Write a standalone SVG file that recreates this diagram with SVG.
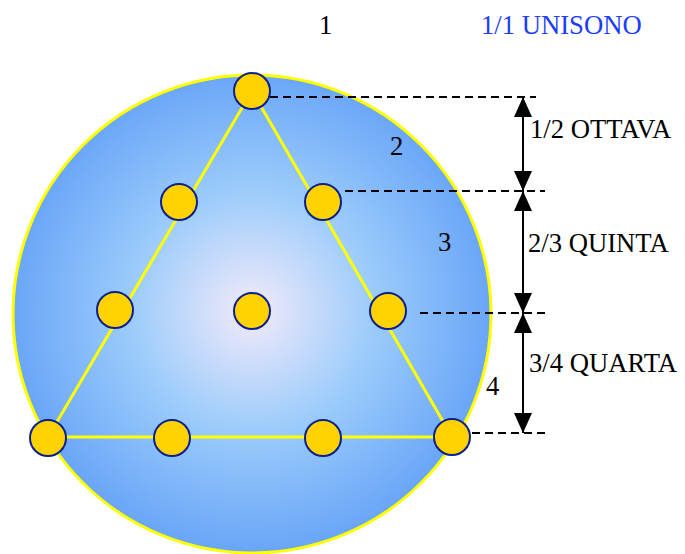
<svg xmlns="http://www.w3.org/2000/svg" width="685" height="554" viewBox="0 0 685 554">
<style>
.node{fill:#ffd200;stroke:#0a2090;stroke-width:2}
.tri{fill:none;stroke:#ffff00;stroke-width:3}
.dash{stroke:#000;stroke-width:2;stroke-dasharray:8,5;fill:none}
.arr{stroke:#000;stroke-width:2;fill:none}
.t{font-family:"Liberation Serif","Times New Roman",serif;font-size:26.67px;fill:#000}
.blue{fill:#1a3cff}
</style>
<defs>
<radialGradient id="g" cx="252" cy="311" r="240" gradientUnits="userSpaceOnUse">
<stop offset="0" stop-color="#f3eafa"/>
<stop offset="0.5" stop-color="#9cccfb"/>
<stop offset="1" stop-color="#6aa6f8"/>
</radialGradient>
<marker id="ah" viewBox="0 0 20 18" refX="20" refY="9" markerWidth="20" markerHeight="18" markerUnits="userSpaceOnUse" orient="auto">
<path d="M0,0 L20,9 L0,18 Z" fill="#000"/>
</marker>
</defs>
<g id="disc">
<circle cx="252" cy="314" r="239" fill="url(#g)" stroke="#ffff00" stroke-width="3"/>
</g>
<g id="connectors">
<polyline class="tri" points="252,91 452,437 48,437 252,91"/>
<line class="dash" x1="270" y1="97" x2="536" y2="97"/>
<line class="dash" x1="345" y1="191" x2="545" y2="191"/>
<line class="dash" x1="420" y1="313" x2="545" y2="313"/>
<line class="dash" x1="472" y1="433" x2="548" y2="433"/>
<line class="arr" x1="523" y1="115" x2="523" y2="97" marker-end="url(#ah)"/>
<line class="arr" x1="523" y1="115" x2="523" y2="191" marker-end="url(#ah)"/>
<line class="arr" x1="523" y1="209" x2="523" y2="191" marker-end="url(#ah)"/>
<line class="arr" x1="523" y1="209" x2="523" y2="313" marker-end="url(#ah)"/>
<line class="arr" x1="523" y1="331" x2="523" y2="313" marker-end="url(#ah)"/>
<line class="arr" x1="523" y1="331" x2="523" y2="433" marker-end="url(#ah)"/>
</g>
<g id="n1"><circle class="node" cx="252" cy="91" r="18"/></g>
<g id="n2"><circle class="node" cx="179" cy="202" r="18"/></g>
<g id="n3"><circle class="node" cx="323" cy="202" r="18"/></g>
<g id="n4"><circle class="node" cx="115" cy="310" r="18"/></g>
<g id="n5"><circle class="node" cx="252" cy="311" r="18"/></g>
<g id="n6"><circle class="node" cx="388" cy="311" r="18"/></g>
<g id="n7"><circle class="node" cx="48" cy="438" r="18"/></g>
<g id="n8"><circle class="node" cx="172" cy="438" r="18"/></g>
<g id="n9"><circle class="node" cx="323" cy="438" r="18"/></g>
<g id="n10"><circle class="node" cx="452" cy="437" r="18"/></g>
<g id="labels">
<text class="t" x="319" y="34">1</text>
<text class="t blue" x="481" y="34">1/1 UNISONO</text>
<text class="t" x="390" y="155">2</text>
<text class="t" x="438" y="251">3</text>
<text class="t" x="486" y="395">4</text>
<text class="t" x="530" y="138">1/2 OTTAVA</text>
<text class="t" x="528" y="252">2/3 QUINTA</text>
<text class="t" x="529" y="372">3/4 QUARTA</text>
</g>
</svg>
